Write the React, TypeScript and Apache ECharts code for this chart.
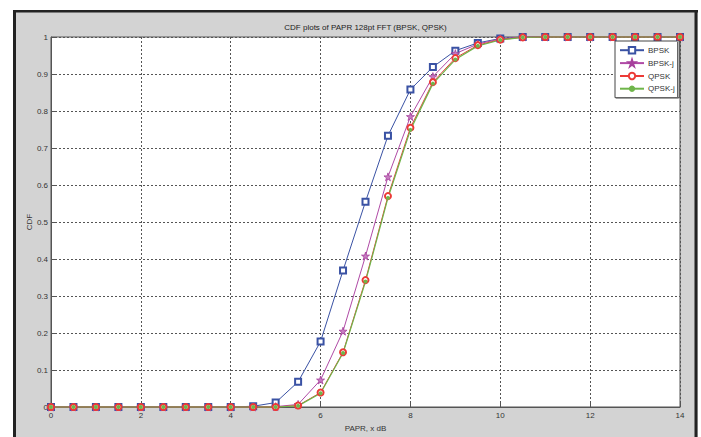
import React, { useEffect, useRef } from "react";
import * as echarts from "echarts";

const xs = [0, 0.5, 1, 1.5, 2, 2.5, 3, 3.5, 4, 4.5, 5, 5.5, 6, 6.5, 7, 7.5, 8, 8.5, 9, 9.5, 10, 10.5, 11, 11.5, 12, 12.5, 13, 13.5, 14];
const bpsk = [0, 0, 0, 0, 0, 0, 0, 0, 0, 0.002, 0.012, 0.068, 0.177, 0.369, 0.555, 0.733, 0.858, 0.919, 0.963, 0.984, 0.996, 1, 1, 1, 1, 1, 1, 1, 1];
const bpskJ = [0, 0, 0, 0, 0, 0, 0, 0, 0, 0, 0.001, 0.007, 0.073, 0.205, 0.408, 0.622, 0.785, 0.893, 0.955, 0.981, 0.995, 1, 1, 1, 1, 1, 1, 1, 1];
const qpsk = [0, 0, 0, 0, 0, 0, 0, 0, 0, 0, 0, 0.004, 0.039, 0.148, 0.343, 0.57, 0.755, 0.878, 0.943, 0.978, 0.993, 0.999, 1, 1, 1, 1, 1, 1, 1];
const qpskJ = [0, 0, 0, 0, 0, 0, 0, 0, 0, 0, 0, 0.003, 0.037, 0.146, 0.339, 0.565, 0.749, 0.874, 0.939, 0.976, 0.992, 0.999, 1, 1, 1, 1, 1, 1, 1];

const titleText = "CDF plots of PAPR 128pt FFT (BPSK, QPSK)";
const xName = "PAPR, x dB";
const yName = "CDF";

const STAR = "path://M50,0 L61,35 L98,35 L68,57 L79,91 L50,70 L21,91 L32,57 L2,35 L39,35 Z";
const FONT = "'Liberation Sans', Arial, sans-serif";

const pairs = (ys: number[]) => xs.map((x, i) => [x, ys[i]]);

export default function App() {
  const ref = useRef<HTMLDivElement>(null);
  useEffect(() => {
    const chart = echarts.init(ref.current!, null, { renderer: "svg" });
    chart.setOption({
      animation: false,
      backgroundColor: "#d3d3d3",
      textStyle: { fontFamily: FONT },
      title: {
        text: titleText,
        left: 365.5,
        top: 23,
        textAlign: "center",
        padding: 0,
        textStyle: { fontSize: 8, fontWeight: "normal", color: "#222", fontFamily: FONT },
      },
      graphic: [
        { type: "rect", shape: { x: 0, y: 0, width: 701, height: 10 }, style: { fill: "#fff" }, silent: true },
        { type: "rect", shape: { x: 0, y: 0, width: 13, height: 437 }, style: { fill: "#fff" }, silent: true },
        { type: "rect", shape: { x: 698, y: 0, width: 3, height: 437 }, style: { fill: "#fff" }, silent: true },
        { type: "rect", shape: { x: 13, y: 10, width: 685, height: 2.5 }, style: { fill: "#222" }, silent: true },
        { type: "rect", shape: { x: 13, y: 10, width: 3, height: 427 }, style: { fill: "#222" }, silent: true },
        { type: "rect", shape: { x: 694.5, y: 10, width: 3, height: 427 }, style: { fill: "#222" }, silent: true },
        { type: "rect", shape: { x: 677, y: 42, width: 1.5, height: 56 }, style: { fill: "#666" }, silent: true, z: 20 },
        { type: "rect", shape: { x: 616, y: 97, width: 62.5, height: 1.5 }, style: { fill: "#666" }, silent: true, z: 20 },
      ],
      grid: {
        left: 51,
        top: 37,
        width: 629,
        height: 371,
        show: true,
        backgroundColor: "#fff",
        borderColor: "#555",
        borderWidth: 1,
      },
      xAxis: {
        type: "value",
        min: 0,
        max: 14,
        interval: 2,
        name: xName,
        nameLocation: "middle",
        nameGap: 17,
        nameMoveOverlap: false,
        nameTextStyle: { fontSize: 8, color: "#333" },
        axisLine: { show: true, lineStyle: { color: "#555", width: 1 } },
        axisTick: { show: true, inside: true, length: 4, lineStyle: { color: "#555" } },
        axisLabel: { fontSize: 8, color: "#333", margin: 4 },
        splitLine: { show: true, lineStyle: { type: [2, 2], color: "#555", width: 1 } },
      },
      yAxis: {
        type: "value",
        min: 0,
        max: 1,
        interval: 0.1,
        name: yName,
        nameLocation: "middle",
        nameGap: 18,
        nameMoveOverlap: false,
        nameTextStyle: { fontSize: 8, color: "#333" },
        axisLine: { show: true, lineStyle: { color: "#555", width: 1 } },
        axisTick: { show: true, inside: true, length: 4, lineStyle: { color: "#555" } },
        axisLabel: { fontSize: 8, color: "#333", margin: 3 },
        splitLine: { show: true, lineStyle: { type: [2, 2], color: "#555", width: 1 } },
      },
      legend: {
        orient: "vertical",
        left: 615,
        top: 41,
        width: 62,
        padding: [5, 5, 5, 4],
        itemWidth: 24,
        itemHeight: 8,
        itemGap: 4.5,
        backgroundColor: "#fff",
        borderColor: "#444",
        borderWidth: 1,
        borderRadius: 0,
        textStyle: { fontSize: 8, color: "#333", padding: [0, 0, 0, -1] },
        data: ["BPSK", "BPSK-j", "QPSK", "QPSK-j"],
      },
      series: [
        {
          name: "BPSK",
          type: "line",
          data: pairs(bpsk),
          clip: false,
          symbol: "emptyRect",
          symbolSize: 6,
          color: "#3a52a4",
          lineStyle: { width: 1, color: "#3a52a4" },
          itemStyle: { color: "#3a52a4", borderColor: "#3a52a4", borderWidth: 1.2 },
        },
        {
          name: "BPSK-j",
          type: "line",
          data: pairs(bpskJ),
          clip: false,
          symbol: STAR,
          symbolSize: 8,
          color: "#b04aa6",
          lineStyle: { width: 1, color: "#b04aa6" },
          itemStyle: { color: "#c77cc1", borderColor: "#a63f9c", borderWidth: 0.8 },
        },
        {
          name: "QPSK",
          type: "line",
          data: pairs(qpsk),
          clip: false,
          symbol: "emptyCircle",
          symbolSize: 6,
          color: "#ec3a36",
          lineStyle: { width: 1, color: "#ec3a36" },
          itemStyle: { color: "#ec3a36", borderColor: "#ec3a36", borderWidth: 1.5 },
        },
        {
          name: "QPSK-j",
          type: "line",
          data: pairs(qpskJ),
          clip: false,
          symbol: "circle",
          symbolSize: 4,
          color: "#6fb54a",
          lineStyle: { width: 1.2, color: "#6fb54a" },
          itemStyle: { color: "#6fb54a" },
        },
      ],
    });
    return () => chart.dispose();
  }, []);
  return <div ref={ref} style={{ position: "fixed", left: 0, top: 0, width: 701, height: 437 }} />;
}
